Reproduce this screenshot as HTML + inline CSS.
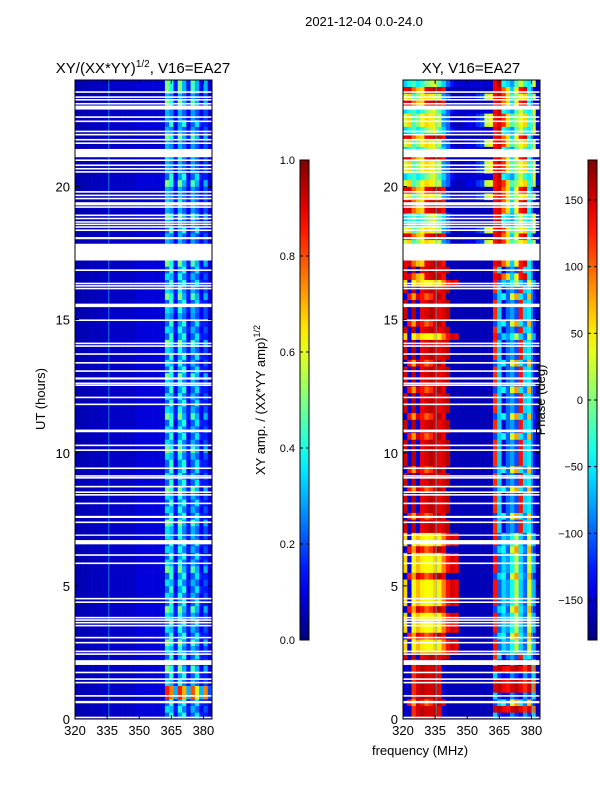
<!DOCTYPE html>
<html><head><meta charset="utf-8"><style>
body{margin:0;background:#fff;}
svg{display:block;font-family:"Liberation Sans",sans-serif;}
</style></head><body>
<svg id="fig" width="600" height="800" viewBox="0 0 600 800" xmlns="http://www.w3.org/2000/svg">
<text x="364" y="26" font-size="13" text-anchor="middle">2021-12-04 0.0-24.0</text>
<text x="143" y="73" font-size="15" text-anchor="middle">XY/(XX*YY)<tspan font-size="10" dy="-6">1/2</tspan><tspan dy="6">, V16=EA27</tspan></text>
<text x="471" y="73" font-size="15" text-anchor="middle">XY, V16=EA27</text>
<text transform="translate(45,399) rotate(-90)" font-size="13" text-anchor="middle">UT (hours)</text>
<text x="420" y="755" font-size="13" text-anchor="middle">frequency (MHz)</text>
<text transform="translate(265,400) rotate(-90)" font-size="13" text-anchor="middle">XY amp. / (XX*YY amp)<tspan font-size="9" dy="-5">1/2</tspan></text>
<g id="left"></g>
<g id="right"></g>
<g id="cb"></g>
<text transform="translate(545,400) rotate(-90)" font-size="13" text-anchor="middle">Phase (deg)</text>
</svg>
<script>
const freqBins = [320,322,324,326,328,330,332,334,336,338,340,342,344,346,348,350,352,354,356,358,360,362,364,366,368,370,372,374,376,378,380,382];
const rowHours = 0.25;
const ampA = [.05,.05,.05,.06,.06,.06,.07,.07,.07,.07,.07,.07,.07,.07,.09,.09,.09,.09,.09,.09,.09,0.35,0.3,0.15,0.4,0.25,0.15,0.3,0.22,0.12,0.2,0.08];
const ampB = [.05,.05,.05,.06,.06,.06,.07,.07,.07,.07,.07,.07,.07,.07,.09,.09,.09,.09,.09,.09,.09,0.22,0.42,0.12,0.28,0.4,0.12,0.22,0.35,0.15,0.15,0.08];
const ampO = [.05,.05,.05,.06,.06,.06,.07,.07,.07,.07,.07,.07,.07,.07,.09,.09,.09,.09,.09,.09,.09,0.85,0.75,0.3,0.85,0.7,0.3,0.8,0.6,0.3,0.75,0.2];
const ampQ = [.05,.05,.05,.06,.06,.06,.07,.07,.07,.07,.07,.07,.07,.07,.08,.08,.08,.08,.08,.08,.08,0.3,0.25,0.12,0.3,0.22,0.12,0.28,0.2,0.12,0.2,0.08];
const ampY = [.05,.05,.05,.06,.06,.06,.07,.07,.07,.07,.07,.07,.07,.07,.09,.09,.09,.09,.09,.09,.09,0.5,0.4,0.15,0.5,0.3,0.15,0.45,0.3,0.12,0.3,0.08];
const ampProfiles = [ampA, ampB, ampO, ampQ, ampY];
const ampRows = [1,0,1,2,2,0,1,4,
 0,1,0,4,1,0,1,0,4,1,0,1,0,1,4,0,1,0,1,0,
 0,4,1,0,1,0,4,1,0,1,1,0,4,0,1,0,1,4,0,1,0,1,0,4,1,0,1,0,4,1,0,1,3,0,1,4,0,1,0,1,
 4,3,0,3,3,1,3,4,3,0,3,3,4,1,3,3,0,3,3,4,3,1,3,3,4,3,4,4];
const ph0 = [60,-140,40,70,50,45,40,60,50,90,130,150,140,-160,-160,-160,-160,-160,-160,-160,-160,130,-100,-60,-80,-40,20,-60,-100,30,-70,-160];
const ph1 = [150,-150,160,-150,140,150,160,150,140,150,160,-160,-160,-160,-160,-160,-160,-160,-160,-160,-160,120,-60,-150,-100,-80,-110,130,-60,-50,-130,-160];
const ph2 = [-150,130,80,150,130,100,120,150,160,140,-160,-160,-160,-160,-160,-160,-160,-160,-160,-160,-160,-110,-60,-40,-100,30,80,-50,-90,70,-120,-160];
const ph3 = [-150,-160,120,150,160,150,150,160,140,-150,-160,-160,-160,-160,-160,-160,-160,-160,-160,-160,-160,-60,-120,-140,-130,-90,-120,-140,-80,-120,-60,-160];
const ph4 = [30,60,-20,0,40,60,50,30,20,-80,-100,-150,-160,-160,-150,-140,-150,-120,-110,20,40,130,150,120,60,-20,10,40,60,-30,20,-150];
const ph5 = [140,150,100,70,60,140,150,160,150,130,-160,-160,-160,-160,-160,-160,-160,-160,-160,-160,-160,140,150,100,60,-60,40,130,150,-50,-150,-160];
const ph6 = [-60,-40,-20,-50,-30,0,20,40,-20,-60,-100,-130,-150,-150,-150,-150,-150,-150,-150,-150,-150,140,160,-40,-60,-80,-20,30,-30,-50,40,-160];
const ph7 = [-150,-160,120,150,160,150,150,160,140,-150,-160,-160,-160,-160,-160,-160,-160,-160,-160,-160,-160,150,160,140,130,150,160,140,120,150,100,-160];
const phProfiles = [ph0, ph1, ph2, ph3, ph4, ph5, ph6, ph7];
const phRows = [3,7,2,3,7,7,3,7,3,1,
 0,0,2,0,0,0,2,0,0,0,0,2,0,0,0,2,0,0,
 1,1,2,1,1,1,2,1,1,2,1,1,1,1,2,1,1,2,1,1,1,2,1,1,1,2,1,1,1,0,1,2,1,1,1,2,1,0,5,1,
 5,6,4,4,5,4,6,6,5,5,4,5,4,6,4,4,5,6,4,5,6,4,4,6,5,4,5,6];
const gapsThin = [23.54,23.35,23.25,23.10,22.60,22.44,22.06,21.94,21.75,21.62,20.98,20.79,20.66,20.54,19.79,19.66,19.54,19.22,18.91,18.79,18.66,18.57,18.47,18.35,16.85,16.35,16.26,16.16,14.97,14.10,14.0,13.70,13.37,13.06,12.6,12.53,12.07,11.81,10.27,10.09,9.41,9.12,9.05,8.72,8.51,8.41,8.09,7.38,6.15,5.84,4.38,3.80,3.71,3.61,3.50,3.05,2.86,2.53,2.43,1.74,1.49,1.36,0.86,0.05];
const gapsThick = [[22.89,23.04],[21.10,21.41],[19.29,19.41],[18.02,18.10],[17.22,17.85],[15.47,15.60],[12.75,12.83],[10.77,10.87],[7.55,7.63],[6.88,6.93],[6.56,6.72],[4.49,4.55],[2.03,2.21],[0.59,0.68]];
const xTicks = [320,335,350,365,380];
const yTicks = [0,5,10,15,20];
const ampTicks = [0.0,0.2,0.4,0.6,0.8,1.0];
const phTicks = [-150,-100,-50,0,50,100,150];

const NS = "http://www.w3.org/2000/svg";
const fig = document.getElementById('fig');
function jet(v){v=Math.max(0,Math.min(1,v));const c=x=>Math.round(255*Math.max(0,Math.min(1,1.5-Math.abs(x))));return `rgb(${c(4*v-3)},${c(4*v-2)},${c(4*v-1)})`;}
function mk(tag,attrs,parent){const e=document.createElementNS(NS,tag);for(const k in attrs)e.setAttribute(k,attrs[k]);parent.appendChild(e);return e;}
const Y0=719,Y1=80,H=24;
const yS=h=>Y0-h*(Y0-Y1)/H;
function panel(gid,x0,x1,rows,profiles,toV,vlines){
  const g=document.getElementById(gid);
  const xS=f=>x0+(f-320)*(x1-x0)/64;
  rows.forEach((pi,r)=>{
    const prof=profiles[pi];
    freqBins.forEach((f,b)=>{
      const rc=mk('rect',{x:xS(f).toFixed(2),y:yS((r+1)*rowHours).toFixed(2),width:(xS(f+2)-xS(f)+0.3).toFixed(2),height:(yS(r*rowHours)-yS((r+1)*rowHours)+0.3).toFixed(2),fill:jet(toV(prof[b]))},g);
      
      
    });
  });
  vlines.forEach(f=>{const l=mk('line',{x1:xS(f),x2:xS(f),y1:Y1,y2:Y0,stroke:'#3cc8e6','stroke-width':1,'stroke-opacity':0.6},g);
    
    });
  gapsThin.forEach(h=>{const w=mk('rect',{x:x0,y:yS(h)-1,width:x1-x0,height:1.6,fill:'#fff'},g);
    
    });
  gapsThick.forEach(([a,b])=>{const w=mk('rect',{x:x0,y:yS(b),width:x1-x0,height:yS(a)-yS(b),fill:'#fff'},g);
    
    });
  mk('rect',{x:x0,y:Y1,width:x1-x0,height:Y0-Y1,fill:'none',stroke:'#000','stroke-width':1},g);
  xTicks.forEach(f=>{const x=xS(f);
    mk('line',{x1:x,x2:x,y1:Y0,y2:Y0-4,stroke:'#000'},g);
    mk('line',{x1:x,x2:x,y1:Y1,y2:Y1+4,stroke:'#000'},g);
    const t=mk('text',{x:x,y:Y0+16,'font-size':13,'text-anchor':'middle'},g);t.textContent=f;
    
    });
  yTicks.forEach(h=>{const y=yS(h);
    mk('line',{x1:x0,x2:x0+4,y1:y,y2:y,stroke:'#000'},g);
    mk('line',{x1:x1,x2:x1-4,y1:y,y2:y,stroke:'#000'},g);
    const t=mk('text',{x:x0-5,y:y+5,'font-size':13,'text-anchor':'end'},g);t.textContent=h;
    
    });
}
panel('left',75,212,ampRows,ampProfiles,v=>v,[335.8]);
panel('right',403,540,phRows,phProfiles,d=>(d+180)/360,[335.5,380.5]);

const defs=mk('defs',{},fig);
const gr=mk('linearGradient',{id:'jetg',x1:0,y1:1,x2:0,y2:0},defs);
for(let i=0;i<=20;i++){mk('stop',{offset:i/20,'stop-color':jet(i/20)},gr);}
const cbg=document.getElementById('cb');
function colorbar(x,ticks,lo,hi,fmt){
  const top=160,bot=640;
  mk('rect',{x:x,y:top,width:9,height:bot-top,fill:'url(#jetg)',stroke:'#000','stroke-width':1},cbg);
  ticks.forEach(v=>{const y=bot-(v-lo)/(hi-lo)*(bot-top);
    mk('line',{x1:x,x2:x+3,y1:y,y2:y,stroke:'#000'},cbg);
    mk('line',{x1:x+9,x2:x+6,y1:y,y2:y,stroke:'#000'},cbg);
    const t=mk('text',{x:x-5,y:y+4,'font-size':11,'text-anchor':'end'},cbg);t.textContent=fmt(v);
    
    });
}
colorbar(300,ampTicks,0,1,v=>v.toFixed(1));
colorbar(588,phTicks,-180,180,v=>v<0?'\u2212'+Math.abs(v):String(v));
</script>
</body></html>
